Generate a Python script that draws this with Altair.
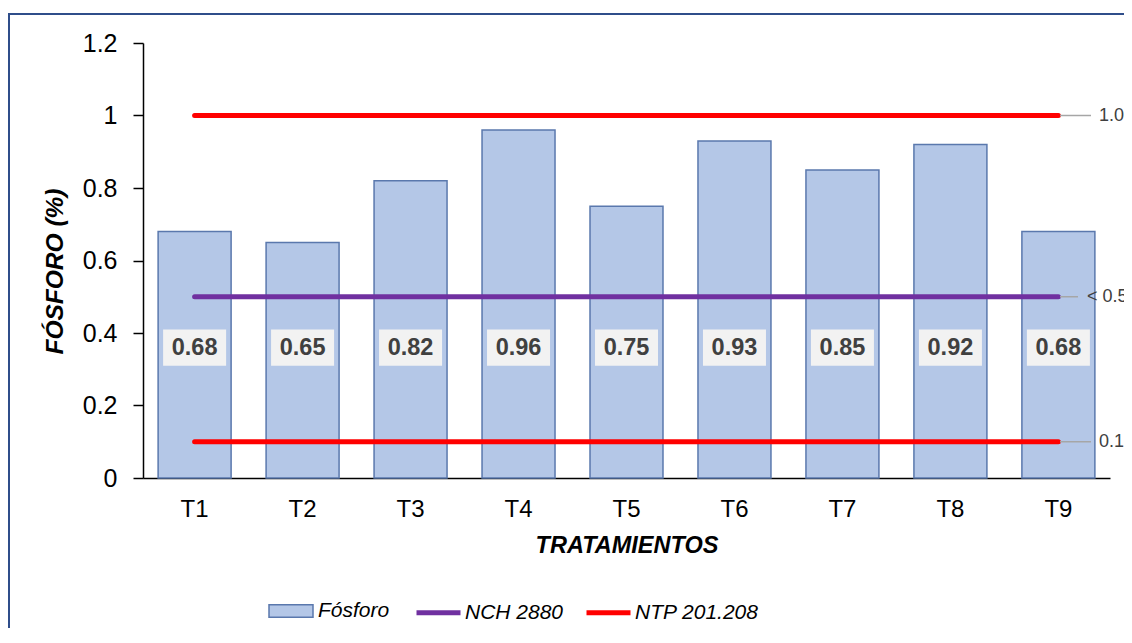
import altair as alt
import pandas as pd

categories = ["T1", "T2", "T3", "T4", "T5", "T6", "T7", "T8", "T9"]
fosforo = [0.68, 0.65, 0.82, 0.96, 0.75, 0.93, 0.85, 0.92, 0.68]
bar_series = ["Fósforo"]
bar_colors = ["#b4c7e7"]
line_series = ["NCH 2880", "NTP 201.208"]
line_colors = ["#7030a0", "#ff0000"]
nch_value = 0.5
ntp_values = [1.0, 0.1]
ref_values = [1.0, 0.5, 0.1]
ref_labels = ["1.0", "< 0.5", "0.1"]

FONT = "Liberation Sans"
W, H = 967, 435
PAD_L, PAD_T, PAD_R, PAD_B = 135, 35, 14, 150

bars_df = pd.DataFrame({"cat": categories, "value": fosforo, "serie": "Fósforo"})

rows = []
for c in categories:
    rows.append({"cat": c, "value": nch_value, "serie": "NCH 2880", "grp": "nch"})
    for i, v in enumerate(ntp_values):
        rows.append({"cat": c, "value": v, "serie": "NTP 201.208", "grp": f"ntp{i}"})
lines_df = pd.DataFrame(rows)

ref_df = pd.DataFrame({"value": ref_values, "label": ref_labels})

x_enc = alt.X(
    "cat:N",
    sort=categories,
    scale=alt.Scale(domain=categories, paddingInner=0.324, paddingOuter=0.14),
    axis=alt.Axis(
        title="TRATAMIENTOS", titleFont=FONT, titleFontSize=23.5, titleFontWeight="bold",
        titleFontStyle="italic", titleColor="#000000", titleY=74, titleBaseline="alphabetic",
        labelFont=FONT, labelFontSize=24, labelColor="#000000", labelPadding=19,
        ticks=False, domainColor="#000000", domainWidth=1.5, labelAngle=0,
    ),
)
y_scale = alt.Scale(domain=[0, 1.2], nice=False)
y_enc = alt.Y(
    "value:Q",
    scale=y_scale,
    axis=alt.Axis(
        title="FÓSFORO (%)", titleFont=FONT, titleFontSize=24.5, titleFontWeight="bold",
        titleFontStyle="italic", titleColor="#000000", titleX=-81, titleY=228,
        titleBaseline="alphabetic", titleAngle=270,
        values=[0, 0.2, 0.4, 0.6, 0.8, 1.0, 1.2], format="~g",
        labelFont=FONT, labelFontSize=25, labelColor="#000000", labelPadding=16,
        tickSize=10, tickColor="#000000", tickWidth=1.5,
        domainColor="#000000", domainWidth=1.5, grid=False,
    ),
)

fill_enc = alt.Fill(
    "serie:N",
    scale=alt.Scale(domain=bar_series, range=bar_colors),
    legend=alt.Legend(
        title=None, orient="none", direction="horizontal", legendX=125, legendY=545,
        symbolType="M-1,-0.28H1V0.28H-1Z", symbolSize=1936,
        symbolStrokeColor="#5a78ad", symbolStrokeWidth=1.5, symbolOpacity=1,
        labelFont=FONT, labelFontSize=21, labelFontStyle="italic",
        labelColor="#000000", labelOffset=4,
    ),
)
stroke_enc = alt.Stroke(
    "serie:N",
    scale=alt.Scale(domain=line_series, range=line_colors),
    legend=alt.Legend(
        title=None, orient="none", direction="horizontal", legendX=271, legendY=545,
        symbolType="stroke", symbolSize=1936, symbolStrokeWidth=5, symbolOpacity=1,
        labelFont=FONT, labelFontSize=21, labelFontStyle="italic",
        labelColor="#000000", labelOffset=2, columnPadding=12,
    ),
)

bars = alt.Chart(bars_df).mark_bar(stroke="#5a78ad", strokeWidth=1.5).encode(
    x=x_enc, y=y_enc, fill=fill_enc
)

lines = alt.Chart(lines_df).mark_line(strokeWidth=5, strokeCap="round").encode(
    x=alt.X("cat:N", sort=categories), y=alt.Y("value:Q"), stroke=stroke_enc, detail="grp:N"
)

boxes = alt.Chart(bars_df).mark_bar(width=63, color="#f2f2f2").encode(
    x=alt.X("cat:N", sort=categories), y=alt.datum(0.31), y2=alt.datum(0.41)
)
texts = alt.Chart(bars_df).mark_text(
    font=FONT, fontSize=23.5, fontWeight="bold", color="#404040", baseline="middle"
).encode(
    x=alt.X("cat:N", sort=categories), y=alt.datum(0.36), text=alt.Text("value:Q", format=".2f")
)

is_mid = alt.datum.label == "< 0.5"
ref_base = alt.Chart(ref_df)
leaders_a = ref_base.transform_filter(~is_mid).mark_rule(color="#a6a6a6", strokeWidth=1.5).encode(
    y=alt.Y("value:Q"), x=alt.value(917), x2=alt.value(948)
)
leaders_b = ref_base.transform_filter(is_mid).mark_rule(color="#a6a6a6", strokeWidth=1.5).encode(
    y=alt.Y("value:Q"), x=alt.value(917), x2=alt.value(935)
)
ref_text_a = ref_base.transform_filter(~is_mid).mark_text(
    font=FONT, fontSize=18, color="#404040", align="left", baseline="middle"
).encode(y=alt.Y("value:Q"), x=alt.value(956), text="label:N")
ref_text_b = ref_base.transform_filter(is_mid).mark_text(
    font=FONT, fontSize=18, color="#404040", align="left", baseline="middle"
).encode(y=alt.Y("value:Q"), x=alt.value(944), text="label:N")

# decorative chart border: left and top edges (the others run off the page)
border_left = alt.Chart(alt.Data(values=[{}])).mark_rule(color="#2f4d8a", strokeWidth=2).encode(
    x=alt.value(-PAD_L + 1), y=alt.value(-PAD_T + 6), y2=alt.value(H + PAD_B + 5)
)
border_top = alt.Chart(alt.Data(values=[{}])).mark_rule(color="#2f4d8a", strokeWidth=2).encode(
    x=alt.value(-PAD_L), x2=alt.value(W + PAD_R + 5), y=alt.value(-PAD_T + 6)
)

chart = alt.layer(
    border_left, border_top, bars, lines, boxes, texts,
    leaders_a, leaders_b, ref_text_a, ref_text_b,
).properties(
    width=W, height=H,
    autosize=alt.AutoSizeParams(type="none"),
    padding={"left": PAD_L, "top": PAD_T, "right": PAD_R, "bottom": PAD_B},
    background="#ffffff",
).resolve_scale(fill="independent", stroke="independent").configure_view(stroke=None)

chart.save("out.html", embed_options={"renderer": "svg", "actions": False})
